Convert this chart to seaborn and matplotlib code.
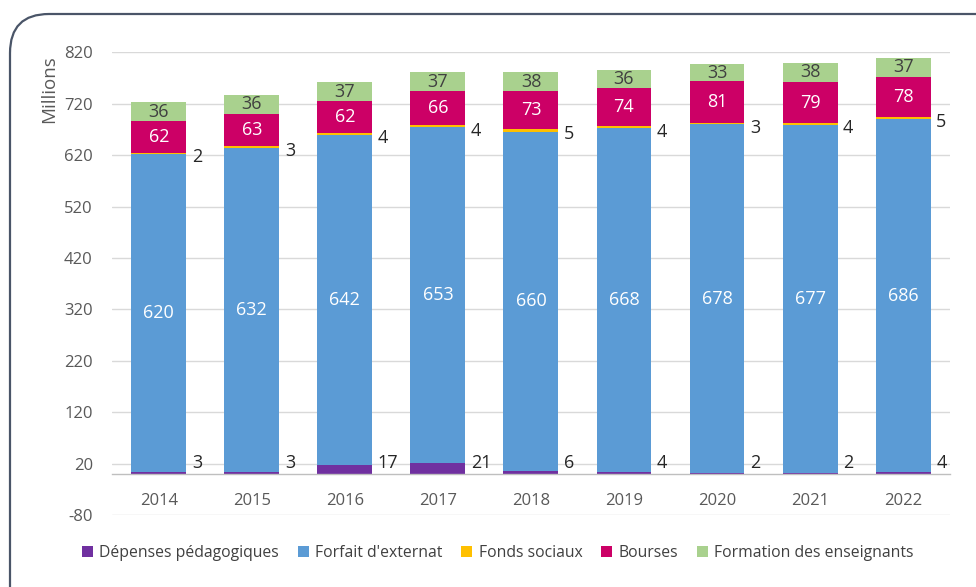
import matplotlib
matplotlib.use('Agg')
import matplotlib.pyplot as plt
from matplotlib.patches import FancyBboxPatch
import numpy as np
import pandas as pd
import seaborn as sns

years = ['2014', '2015', '2016', '2017', '2018', '2019', '2020', '2021', '2022']
depenses = [3, 3, 17, 21, 6, 4, 2, 2, 4]
forfait = [620, 632, 642, 653, 660, 668, 678, 677, 686]
fonds = [2, 3, 4, 4, 5, 4, 3, 4, 5]
bourses = [62, 63, 62, 66, 73, 74, 81, 79, 78]
formation = [36, 36, 37, 37, 38, 36, 33, 38, 37]

series = [
    ('Dépenses pédagogiques', depenses, '#7030A0'),
    ("Forfait d'externat", forfait, '#5B9BD5'),
    ('Fonds sociaux', fonds, '#FFC000'),
    ('Bourses', bourses, '#CC0066'),
    ('Formation des enseignants', formation, '#A9D18E'),
]

sns.set_theme(style='white')
plt.rcParams['font.family'] = ['Open Sans', 'DejaVu Sans']
plt.rcParams['axes.unicode_minus'] = False

fig = plt.figure(figsize=(9.76, 5.87), dpi=100)
ax = fig.add_axes([0.115, 0.1227, 0.858, 0.788])

df = pd.DataFrame({'year': years})
bottom = np.zeros(len(years))
containers = []
for name, vals, color in series:
    df['v'] = vals
    sns.barplot(data=df, x='year', y='v', color=color, bottom=bottom.copy(),
                width=0.59, ax=ax, label=name, saturation=1, linewidth=0)
    containers.append((ax.containers[-1], vals, bottom.copy()))
    bottom += np.array(vals)

# labels inside the bars
ax.bar_label(containers[1][0], labels=[str(v) for v in forfait], label_type='center',
             color='white', fontsize=13)
ax.bar_label(containers[3][0], labels=[str(v) for v in bourses], label_type='center',
             color='white', fontsize=13)
ax.bar_label(containers[4][0], labels=[str(v) for v in formation], label_type='center',
             color='#404040', fontsize=13)

# small segments labelled to the right
for idx in (0, 2):
    cont, vals, base = containers[idx]
    for rect, v, b in zip(cont.patches, vals, base):
        xr = rect.get_x() + rect.get_width()
        if idx == 0:
            ax.annotate(str(v), (xr, 0), xytext=(4, 1), textcoords='offset points',
                        ha='left', va='bottom', fontsize=13, color='#262626')
        else:
            ax.annotate(str(v), (xr, b + v / 2), xytext=(4, -3), textcoords='offset points',
                        ha='left', va='center', fontsize=13, color='#262626')

ax.set_ylim(-80, 820)
ax.set_xlim(-0.5, len(years) - 0.5)
ax.set_yticks(np.arange(-80, 821, 100))
ax.grid(axis='y', color='#d9d9d9', linewidth=1)
ax.set_axisbelow(True)
for s in ['top', 'right', 'left']:
    ax.spines[s].set_visible(False)
ax.spines['bottom'].set_position(('data', 0))
ax.spines['bottom'].set_color('#bfbfbf')
ax.spines['bottom'].set_linewidth(1)
ax.tick_params(axis='x', length=0, pad=14, labelsize=12, labelcolor='#595959')
ax.tick_params(axis='y', length=0, pad=14, labelsize=12, labelcolor='#595959')
ax.set_xlabel('')
ax.set_ylabel('')

fig.text(49 / 976, 1 - 89 / 587, 'Millions', rotation=90, ha='center', va='center',
         fontsize=13.5, color='#595959')

handles, labels = ax.get_legend_handles_labels()
if ax.legend_:
    ax.legend_.remove()
fig.legend(handles, labels, loc='center', bbox_to_anchor=(0.510, 0.058), ncol=5,
           frameon=False, handlelength=0.7, handleheight=0.7, handletextpad=0.4,
           columnspacing=1.2, fontsize=11.3, labelcolor='#404040')

frame = FancyBboxPatch((10 / 976, -0.2), 1.1, 1 - 14 / 587 + 0.2,
                       boxstyle='round,pad=0,rounding_size=0.04',
                       transform=fig.transFigure, fill=False, edgecolor='#4a5568',
                       linewidth=1.6, mutation_aspect=976 / 587, clip_on=False)
fig.patches.append(frame)

fig.savefig('out.png', dpi=100)
